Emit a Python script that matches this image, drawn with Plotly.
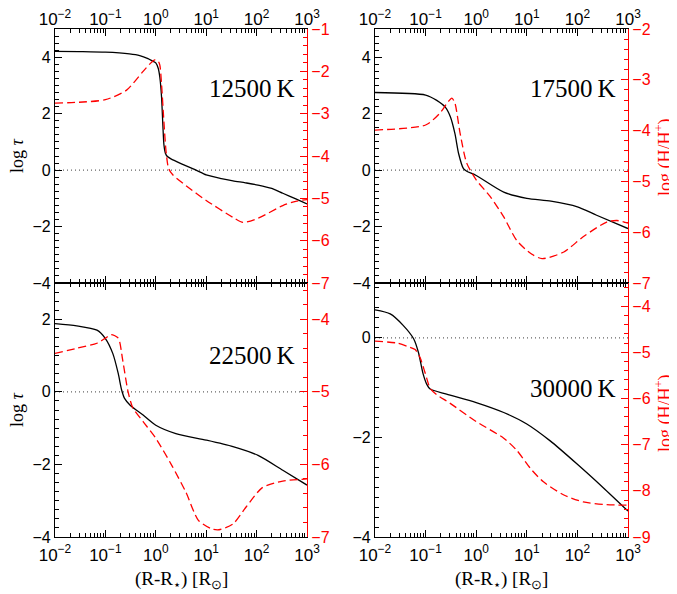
import plotly.graph_objects as go

# ---------------- data ----------------
# 12500 K
x_tau_12 = [0.01, 0.03, 0.1, 0.3, 0.48, 0.7, 0.85, 1.0, 1.12, 1.2, 1.3, 1.38, 1.45, 1.55, 1.7, 2.0, 3.0, 6.3, 10, 20, 34, 60, 107, 200, 331, 600, 1000]
tau_12 = [4.21, 4.2, 4.18, 4.12, 4.06, 3.95, 3.87, 3.8, 3.6, 3.3, 2.6, 1.6, 0.9, 0.6, 0.48, 0.4, 0.25, 0.0, -0.17, -0.3, -0.38, -0.45, -0.53, -0.65, -0.82, -1.02, -1.2]
x_h_12 = [0.01, 0.03, 0.1, 0.26, 0.56, 0.8, 0.95, 1.1, 1.2, 1.3, 1.45, 1.6, 1.8, 2.19, 3.98, 10, 34, 54, 107, 331, 600, 1000]
h_12 = [-2.75, -2.73, -2.67, -2.45, -2.0, -1.8, -1.73, -1.75, -1.85, -2.3, -3.2, -3.9, -4.3, -4.45, -4.7, -5.05, -5.45, -5.57, -5.47, -5.17, -5.07, -5.03]

# 17500 K
x_tau_17 = [0.01, 0.1, 0.166, 0.245, 0.31, 0.38, 0.45, 0.56, 0.65, 1.0, 3.5, 10, 30, 100, 240, 1000]
tau_17 = [2.75, 2.66, 2.47, 2.23, 1.88, 1.29, 0.58, 0.05, -0.04, -0.19, -0.78, -1.0, -1.1, -1.3, -1.6, -2.07]
x_h_17 = [0.01, 0.1, 0.19, 0.28, 0.33, 0.38, 0.48, 0.65, 1.0, 1.9, 3.5, 6.3, 12, 20, 54, 130, 380, 600, 1000]
h_17 = [-3.99, -3.89, -3.66, -3.43, -3.36, -3.46, -4.05, -4.64, -4.97, -5.3, -5.7, -6.16, -6.42, -6.52, -6.39, -6.09, -5.8, -5.77, -5.82]

# 22500 K
x_tau_22 = [0.01, 0.027, 0.068, 0.1, 0.14, 0.18, 0.21, 0.24, 0.31, 0.56, 1.0, 2.5, 10, 34, 107, 331, 1000]
tau_22 = [1.88, 1.82, 1.7, 1.47, 1.06, 0.5, 0.05, -0.18, -0.37, -0.64, -0.92, -1.15, -1.33, -1.51, -1.75, -2.16, -2.57]
x_h_22 = [0.01, 0.027, 0.068, 0.1, 0.13, 0.18, 0.22, 0.28, 0.35, 0.56, 1.0, 2.1, 4.0, 7.0, 13, 18, 34, 63, 130, 331, 1000]
h_22 = [-4.47, -4.4, -4.33, -4.26, -4.21, -4.26, -4.56, -4.99, -5.22, -5.41, -5.64, -6.02, -6.39, -6.77, -6.89, -6.9, -6.82, -6.58, -6.32, -6.23, -6.2]

# 30000 K
x_tau_30 = [0.01, 0.02, 0.036, 0.058, 0.072, 0.089, 0.105, 0.123, 0.26, 1.0, 3.5, 10, 29, 100, 324, 1000]
tau_30 = [0.56, 0.48, 0.25, -0.02, -0.29, -0.72, -0.93, -1.03, -1.13, -1.3, -1.5, -1.73, -2.07, -2.54, -3.01, -3.48]
x_h_30 = [0.01, 0.027, 0.043, 0.062, 0.078, 0.098, 0.123, 0.166, 0.3, 1.0, 3.5, 6.3, 11.7, 21, 54, 130, 380, 1000]
h_30 = [-4.76, -4.8, -4.87, -4.94, -5.12, -5.45, -5.78, -5.92, -6.1, -6.5, -6.86, -7.12, -7.51, -7.8, -8.09, -8.24, -8.3, -8.31]

panel_labels = ["12500 K", "17500 K", "22500 K", "30000 K"]
x_tickvals = [0.01, 0.1, 1, 10, 100, 1000]
x_ticktext = ["10<sup>−2</sup>", "10<sup>−1</sup>", "10<sup>0</sup>", "10<sup>1</sup>", "10<sup>2</sup>", "10<sup>3</sup>"]
x_minor = [k * 10.0 ** e for e in range(-2, 3) for k in range(2, 10)]

left_ranges = [[-4, 5], [-4, 5], [-4, 3], [-4, 1.1]]
left_minor = [0.25, 0.25, 0.25, 0.2]
right_ranges = [[-7, -1], [-7, -2], [-7, -3.5], [-9, -3.5]]

# ---------------- layout geometry ----------------
# the page body adds an 8px offset, so the figure is 8px smaller and shifted
OFF = 8
W, H = 677 - OFF, 594 - OFF
px_x = [(55, 307), (375, 628), (55, 307), (375, 628)]
px_y = [(29, 283), (29, 283), (283, 537), (283, 537)]
label_y = [88, 88, 355, 388]


def fx(p):
    return (p - OFF) / W


def fy(p):
    return 1 - (p - OFF) / H


tau_sets = [(x_tau_12, tau_12), (x_tau_17, tau_17), (x_tau_22, tau_22), (x_tau_30, tau_30)]
h_sets = [(x_h_12, h_12), (x_h_17, h_17), (x_h_22, h_22), (x_h_30, h_30)]

fig = go.Figure()
sans = "Liberation Sans, Arial, sans-serif"
xtickfont = dict(family=sans, size=17, color="black")
tickfont = dict(family=sans, size=16, color="black")
redfont = dict(family=sans, size=16, color="red")
serif = "Liberation Serif, Times New Roman, serif"

layout = dict(
    width=W, height=H, margin=dict(l=0, r=0, t=0, b=0, autoexpand=False),
    paper_bgcolor="white", plot_bgcolor="white", showlegend=False,
)
shapes = []
annotations = []
for i in range(4):
    n = i + 1
    xa = "x" if n == 1 else f"x{n}"
    ya_l = "y" if n == 1 else f"y{n}"
    ya_r = f"y{n + 4}"
    xd = [fx(px_x[i][0]), fx(px_x[i][1])]
    yd = [fy(px_y[i][1]), fy(px_y[i][0])]
    top = i < 2
    layout["xaxis" + ("" if n == 1 else str(n))] = dict(
        type="log", range=[-2, 3], domain=xd, anchor=ya_l, automargin=False,
        side="top" if top else "bottom",
        ticklabelstandoff=-4 if top else 2,
        tickvals=x_tickvals, ticktext=x_ticktext,
        ticks="inside", ticklen=7, tickwidth=1, tickcolor="black",
        minor=dict(tickvals=x_minor, ticks="inside", ticklen=4, tickcolor="black", showgrid=False),
        showline=True, linecolor="black", linewidth=1.2, mirror="ticks",
        showgrid=False, zeroline=False, tickfont=xtickfont,
    )
    layout["yaxis" + ("" if n == 1 else str(n))] = dict(
        range=left_ranges[i], domain=yd, anchor=xa, dtick=2, automargin=False,
        ticks="inside", ticklen=7, tickcolor="black",
        minor=dict(dtick=left_minor[i], ticks="inside", ticklen=4, tickcolor="black", showgrid=False),
        showline=True, linecolor="black", linewidth=1.2,
        showgrid=False, zeroline=False, tickfont=tickfont,
    )
    layout[f"yaxis{n + 4}"] = dict(
        range=right_ranges[i], overlaying=ya_l, anchor=xa, side="right", dtick=1, automargin=False,
        ticks="inside", ticklen=7, tickcolor="red",
        minor=dict(dtick=0.2, ticks="inside", ticklen=4, tickcolor="red", showgrid=False),
        showline=True, linecolor="red", linewidth=1.2,
        showgrid=False, zeroline=False, tickfont=redfont,
    )
    xt, yt = tau_sets[i]
    fig.add_trace(go.Scatter(x=xt, y=yt, xaxis=xa, yaxis=ya_l, mode="lines",
                             line=dict(color="black", width=1.3, shape="spline", smoothing=0.7)))
    xh, yh = h_sets[i]
    fig.add_trace(go.Scatter(x=xh, y=yh, xaxis=xa, yaxis=ya_r, mode="lines",
                             line=dict(color="red", width=1.3, dash="8px,4px", shape="spline", smoothing=0.7)))
    shapes.append(dict(type="line", xref=f"{xa} domain", yref=ya_l, x0=0, x1=1, y0=0, y1=0,
                       line=dict(color="#666666", width=1.2, dash="1px,3px"), layer="below"))
    annotations.append(dict(text=panel_labels[i].replace(" ", "\u2009"), xref="paper", yref="paper",
                            x=fx(px_x[i][1] - 10), y=fy(label_y[i]),
                            xanchor="right", yanchor="middle", showarrow=False,
                            font=dict(family=serif, size=25, color="black")))

# axis titles as annotations
for yc in [156, 410]:
    annotations.append(dict(text="log <i>τ</i>", xref="paper", yref="paper", x=fx(17), y=fy(yc),
                            textangle=-90, showarrow=False, xanchor="center", yanchor="middle",
                            font=dict(family=serif, size=18, color="black")))
for yc in [157, 413]:
    annotations.append(dict(text="log (H/H<sup>+</sup>)", xref="paper", yref="paper", x=fx(664), y=fy(yc),
                            textangle=-90, showarrow=False, xanchor="center", yanchor="middle",
                            font=dict(family=serif, size=18, color="red")))
for xc in [181, 501]:
    annotations.append(dict(text="(R-R<sub>⋆</sub>) [R<sub>⊙</sub>]", xref="paper", yref="paper",
                            x=fx(xc), y=fy(580), showarrow=False, xanchor="center", yanchor="middle",
                            font=dict(family=serif, size=19, color="black")))

layout["shapes"] = shapes
layout["annotations"] = annotations
fig.update_layout(**layout)
fig.write_html("out.html")
